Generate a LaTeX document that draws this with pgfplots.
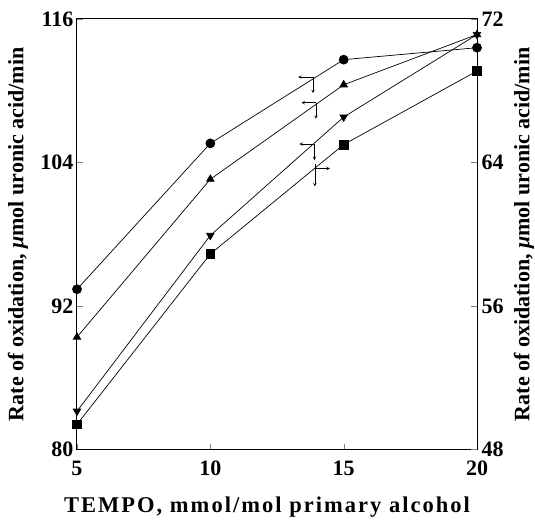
\documentclass[border=0pt]{standalone}
\usepackage{fontspec}
\setmainfont{Liberation Serif}
\newfontfamily\xlabfont[LetterSpace=9]{Liberation Serif}
\usepackage{pgfplots}
\pgfplotsset{compat=1.18}
\begin{document}
\begin{tikzpicture}
\pgfplotsset{
  common/.style={width=400pt,height=430.5pt,scale only axis,
    xmin=5,xmax=20,
    /pgf/number format/assume math mode=true,
    tick label style={font=\fontsize{22}{22}\selectfont\bfseries},
    tick align=inside, major tick length=6pt,
    axis line style={line width=1pt},
    every axis plot/.append style={black, line width=0.7pt, mark options={solid}}}
}
\begin{axis}[common, ymin=80,ymax=116,
  xtick={5,10,15,20}, ytick={80,92,104,116},
  ytick pos=left, xtick pos=bottom,
  xticklabel style={yshift=-8pt},
  xlabel={TEMPO, mmol/mol primary alcohol},
  xlabel style={font=\fontsize{22.5}{22.5}\selectfont\xlabfont\bfseries, at={(axis description cs:0.475,-0.1336)}, anchor=center},
  ylabel={Rate of oxidation, \textit{μ}mol uronic acid/min},
  ylabel style={font=\fontsize{22}{22}\selectfont\bfseries, at={(axis description cs:-0.1475,0.5)}, anchor=center}]
\addplot[mark=*, mark size=4.5pt] coordinates {(5,93.4)(10,105.6)(15,112.6)(20,113.6)};
\addplot[mark=triangle*, mark size=4.3pt] coordinates {(5,89.4)(10,102.6)(15,110.5)(20,114.7)};
\addplot[mark=triangle*, mark options={rotate=180}, mark size=4.3pt] coordinates {(5,83.2)(10,97.9)(15,107.8)(20,114.7)};
\draw[->,>=stealth,line width=0.5pt] (axis cs:13.85,111.15) -- (axis cs:13.29,111.15);
\draw[->,>=stealth,line width=0.5pt] (axis cs:13.85,111.15) -- (axis cs:13.85,109.8);
\draw[->,>=stealth,line width=0.5pt] (axis cs:13.96,109.0) -- (axis cs:13.42,109.0);
\draw[->,>=stealth,line width=0.5pt] (axis cs:13.96,109.0) -- (axis cs:13.96,107.65);
\draw[->,>=stealth,line width=0.5pt] (axis cs:13.9,105.55) -- (axis cs:13.34,105.55);
\draw[->,>=stealth,line width=0.5pt] (axis cs:13.9,105.55) -- (axis cs:13.9,104.2);
\draw[->,>=stealth,line width=0.5pt] (axis cs:13.92,103.5) -- (axis cs:14.48,103.5);
\draw[->,>=stealth,line width=0.5pt] (axis cs:13.92,103.9) -- (axis cs:13.92,102.0);
\end{axis}
\begin{axis}[common, ymin=48,ymax=72,
  ytick={48,56,64,72},
  axis y line*=right, axis x line=none,
  yticklabel style={xshift=1pt},
  ylabel={Rate of oxidation, \textit{μ}mol uronic acid/min},
  ylabel style={font=\fontsize{22}{22}\selectfont\bfseries, at={(axis description cs:1.1175,0.5)}, anchor=center, rotate=0}]
\addplot[mark=square*, mark size=4.3pt] coordinates {(5,49.4)(10,58.9)(15,65.0)(20,69.1)};
\end{axis}
\pgfresetboundingbox
\path[use as bounding box] ([shift={(-77pt,-77.5pt)}]current axis.south west) rectangle ([shift={(58pt,19pt)}]current axis.north east);
\end{tikzpicture}
\end{document}
